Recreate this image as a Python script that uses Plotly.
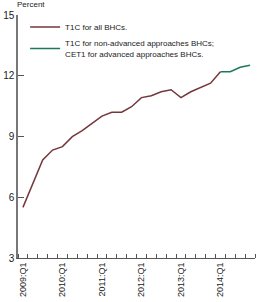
import plotly.graph_objects as go

quarters = [f"{y}:Q{q}" for y in range(2009, 2015) for q in range(1, 5)]
t1c_all = [5.50, 6.65, 7.84, 8.33, 8.50, 8.99, 9.29, 9.65, 10.01, 10.20, 10.20, 10.47,
           10.92, 11.01, 11.21, 11.31, 10.92, 11.21, 11.43, 11.63, 12.20]
cet1 = [12.20, 12.20, 12.42, 12.52]
y_ticks = [3, 6, 9, 12, 15]

idx_all = list(range(len(t1c_all)))
idx_cet1 = list(range(len(t1c_all) - 1, len(t1c_all) - 1 + len(cet1)))
q1_idx = [i for i, q in enumerate(quarters) if q.endswith("Q1")]

BROWN = "#74373b"
GREEN = "#1c7a5c"
FONT = "Liberation Sans Narrow, Arial Narrow, Liberation Sans, Arial, sans-serif"

fig = go.Figure()
fig.add_trace(go.Scatter(x=idx_all, y=t1c_all, mode="lines", name="T1C for all BHCs.",
                         line=dict(color=BROWN, width=1.5)))
fig.add_trace(go.Scatter(x=idx_cet1, y=cet1, mode="lines",
                         name="T1C for non-advanced approaches BHCs;<br>CET1 for advanced approaches BHCs.",
                         line=dict(color=GREEN, width=1.5)))

fig.update_layout(
    width=258, height=302,
    margin=dict(l=15, r=3, t=15, b=44),
    paper_bgcolor="white", plot_bgcolor="white",
    font=dict(family=FONT, size=8, color="#222"),
    showlegend=True,
    legend=dict(x=0.03, y=1.01, xanchor="left", yanchor="top",
                bgcolor="rgba(0,0,0,0)", font=dict(size=8, family=FONT),
                tracegroupgap=0),
    annotations=[dict(text="Percent", x=0, y=1, xref="paper", yref="paper",
                      xanchor="left", yanchor="bottom", showarrow=False,
                      xshift=-3, yshift=4, font=dict(size=8, family=FONT))],
)
fig.update_xaxes(range=[-0.5, len(quarters) - 0.5], tickmode="array",
                 tickvals=q1_idx, ticktext=[quarters[i] for i in q1_idx],
                 tickangle=-90, ticks="", showgrid=False, zeroline=False,
                 showline=True, linecolor="#555", linewidth=1,
                 tickfont=dict(size=9, family=FONT),
                 minor=dict(tickmode="linear", tick0=-0.5, dtick=1, ticks="inside",
                            ticklen=4, tickcolor="#555", tickwidth=1, showgrid=False))
fig.update_yaxes(range=[3, 15], tickmode="array", tickvals=y_ticks,
                 ticks="inside", ticklen=6, tickcolor="#555", showgrid=False,
                 zeroline=False, showline=True, linecolor="#777", linewidth=1.5,
                 tickfont=dict(size=10, family=FONT))

fig.write_html("out.html")
